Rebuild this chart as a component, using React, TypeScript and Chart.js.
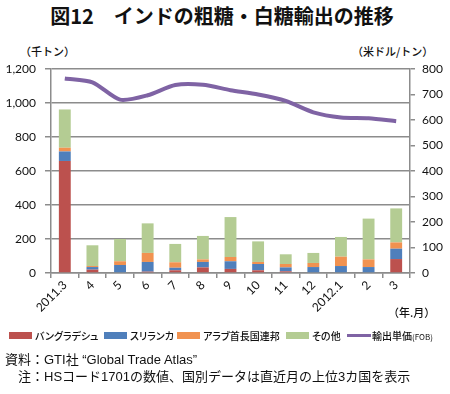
import React, { useEffect, useRef } from 'react';
import { Chart, registerables } from 'chart.js';

Chart.register(...registerables);

const categories = ['2011.3', '4', '5', '6', '7', '8', '9', '10', '11', '12', '2012.1', '2', '3'];
const bangladesh = [659, 20, 0, 8, 16, 33, 24, 16, 10, 0, 0, 0, 82];
const sriLanka = [56, 15, 47, 57, 15, 32, 45, 37, 23, 35, 41, 35, 61];
const uae = [22, 6, 22, 53, 32, 15, 25, 12, 20, 24, 55, 45, 37];
const others = [225, 122, 131, 174, 108, 138, 235, 121, 57, 59, 116, 240, 200];
const unitPrice = [763, 748, 680, 697, 737, 738, 717, 700, 675, 630, 610, 607, 595];

const leftMax = 1200;
const leftStep = 200;
const rightMax = 800;
const rightStep = 100;

const COLORS = {
  red: '#BC514E',
  blue: '#4F7FBB',
  orange: '#F19250',
  green: '#B4CC93',
  purple: '#7F63A4',
  grid: '#8C8C8C',
};

const JP = '"Noto Sans CJK JP", "Noto Sans", sans-serif';
const NOTE = '"Liberation Sans", "Noto Sans CJK JP", sans-serif';
const TICK_FONT = 'Lato, "Liberation Sans", sans-serif';

export default function App() {
  const canvasRef = useRef<HTMLCanvasElement | null>(null);

  useEffect(() => {
    const canvas = canvasRef.current;
    if (!canvas) return;
    const chart = new Chart(canvas, {
      type: 'bar',
      data: {
        labels: categories,
        datasets: [
          {
            type: 'line',
            label: '輸出単価(FOB)',
            data: unitPrice,
            yAxisID: 'y1',
            borderColor: COLORS.purple,
            backgroundColor: COLORS.purple,
            borderWidth: 4,
            pointRadius: 0,
            tension: 0.25,
            order: 0,
          } as any,
          { label: 'バングラデシュ', data: bangladesh, backgroundColor: COLORS.red, stack: 's', order: 1 },
          { label: 'スリランカ', data: sriLanka, backgroundColor: COLORS.blue, stack: 's', order: 1 },
          { label: 'アラブ首長国連邦', data: uae, backgroundColor: COLORS.orange, stack: 's', order: 1 },
          { label: 'その他', data: others, backgroundColor: COLORS.green, stack: 's', order: 1 },
        ],
      },
      options: {
        responsive: false,
        animation: false,
        devicePixelRatio: 1,
        datasets: {
          bar: { categoryPercentage: 1, barPercentage: 0.43 },
        },
        layout: { padding: { top: 69, left: 0, right: 0, bottom: 0 } },
        plugins: {
          legend: { display: false },
          tooltip: { enabled: false },
          title: { display: false },
        },
        scales: {
          x: {
            stacked: true,
            offset: true,
            afterFit: (s: any) => { s.height = 47; },
            grid: {
              offset: true,
              drawOnChartArea: false,
              drawTicks: true,
              tickLength: 5,
              color: COLORS.grid,
              lineWidth: 1.5,
            },
            border: { display: true, color: COLORS.grid, width: 1.5 },
            ticks: {
              autoSkip: false,
              minRotation: 45,
              maxRotation: 45,
              padding: 0,
              color: '#111',
              font: { family: TICK_FONT, size: 12 },
            },
          },
          y: {
            stacked: true,
            position: 'left',
            min: 0,
            max: leftMax,
            afterFit: (s: any) => { s.width = 51; },
            ticks: {
              stepSize: leftStep,
              padding: 9,
              color: '#111',
              font: { family: TICK_FONT, size: 12 },
              callback: (v: any) => Number(v).toLocaleString('en-US'),
            },
            grid: {
              color: COLORS.grid,
              lineWidth: 1.5,
              tickLength: 6,
              drawTicks: true,
            },
            border: { display: true, color: COLORS.grid, width: 1.5 },
          },
          y1: {
            position: 'right',
            min: 0,
            max: rightMax,
            afterFit: (s: any) => { s.width = 40; },
            ticks: {
              stepSize: rightStep,
              padding: 7,
              color: '#111',
              font: { family: TICK_FONT, size: 12 },
            },
            grid: {
              drawOnChartArea: false,
              color: COLORS.grid,
              lineWidth: 1.5,
              tickLength: 5,
              drawTicks: true,
            },
            border: { display: true, color: COLORS.grid, width: 1.5 },
          },
        },
      },
    });
    return () => chart.destroy();
  }, []);

  const abs = (extra: React.CSSProperties): React.CSSProperties => ({
    position: 'absolute',
    whiteSpace: 'nowrap',
    fontFamily: JP,
    color: '#111',
    ...extra,
  });

  const swatch = (left: number, color: string): React.CSSProperties => ({
    position: 'absolute',
    left,
    top: 332,
    width: 23,
    height: 7,
    background: color,
  });

  const legendText = (left: number): React.CSSProperties =>
    abs({ left, top: 330, fontSize: 10, lineHeight: '11px', fontWeight: 500, fontFeatureSettings: '"palt"' });

  return (
    <div style={{ position: 'absolute', left: 0, top: 0, width: 450, height: 394, background: '#fff', overflow: 'hidden' }}>
      <div style={abs({ left: 0, top: 5, width: 444, textAlign: 'center', fontSize: 20, lineHeight: '22px', fontWeight: 700 })}>
        図12　インドの粗糖・白糖輸出の推移
      </div>
      <div style={abs({ left: 20, top: 45, fontSize: 11, lineHeight: '12px', fontWeight: 500 })}>（千トン）</div>
      <div style={abs({ left: 352, top: 45, fontSize: 11, lineHeight: '12px', fontWeight: 500 })}>（米ドル/トン）</div>
      <canvas ref={canvasRef} width={450} height={320} style={{ position: 'absolute', left: 0, top: 0, width: 450, height: 320 }} />
      <div style={abs({ left: 388, top: 306, fontSize: 11, lineHeight: '12px', fontWeight: 500 })}>（年.月）</div>

      <div style={swatch(9, COLORS.red)} />
      <div style={legendText(35)}>バングラデシュ</div>
      <div style={swatch(104, COLORS.blue)} />
      <div style={legendText(130)}>スリランカ</div>
      <div style={swatch(177, COLORS.orange)} />
      <div style={legendText(203)}>アラブ首長国連邦</div>
      <div style={swatch(286, COLORS.green)} />
      <div style={legendText(312)}>その他</div>
      <div style={{ position: 'absolute', left: 347, top: 334, width: 24, height: 3, background: COLORS.purple }} />
      <div style={legendText(372)}>
        輸出単価<span style={{ fontSize: 8, fontWeight: 400 }}>(FOB)</span>
      </div>

      <div style={abs({ left: 5, top: 352, fontSize: 13, lineHeight: '15px', fontFamily: NOTE })}>資料：GTI社 “Global Trade Atlas”</div>
      <div style={abs({ left: 18, top: 369, fontSize: 13, lineHeight: '15px', fontFamily: NOTE })}>
        注：HSコード1701の数値、国別データは直近月の上位3カ国を表示
      </div>
    </div>
  );
}
